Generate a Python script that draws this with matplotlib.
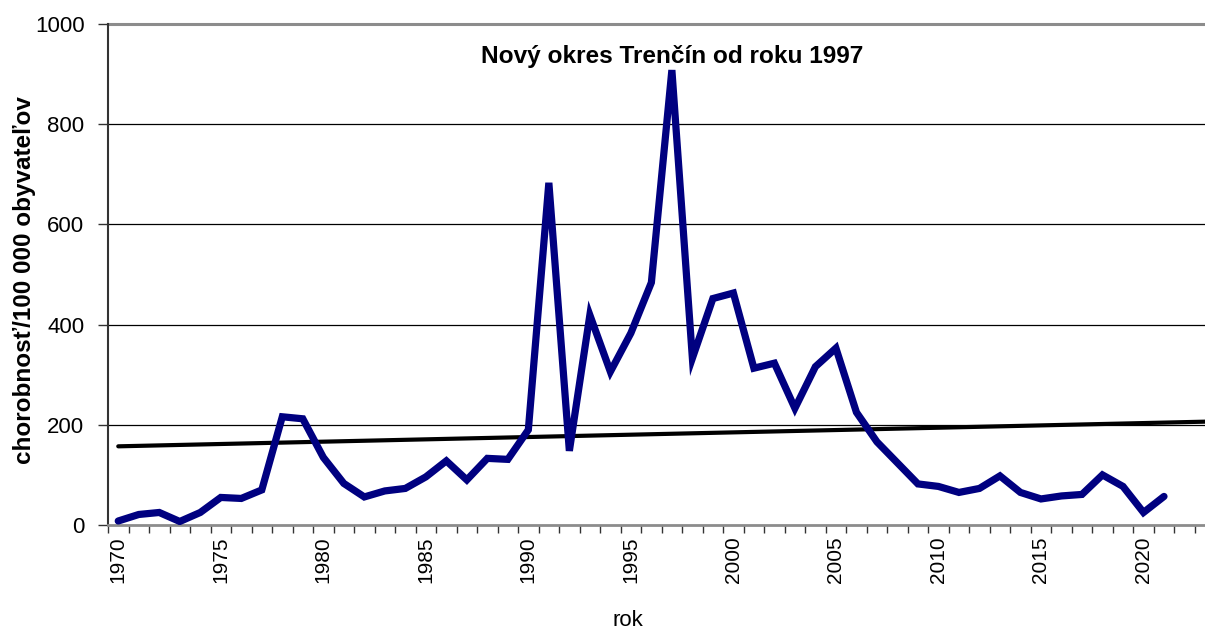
import numpy as np
import matplotlib
matplotlib.use("Agg")
import matplotlib.pyplot as plt
from matplotlib.ticker import FixedLocator, NullFormatter

plt.rcParams['font.family'] = ['Liberation Sans', 'DejaVu Sans']

years = list(range(1970, 2022))
values = [8, 21, 25, 7, 25, 55, 53, 70, 216, 212,
          135, 83, 56, 68, 73, 96, 128, 90, 133, 131,
          190, 683, 148, 419, 306, 383, 484, 908, 333, 452,
          463, 313, 323, 233, 316, 353, 225, 166, 124, 82,
          77, 65, 73, 98, 65, 52, 58, 61, 100, 77, 25, 57]
label_years = [1970, 1975, 1980, 1985, 1990, 1995, 2000, 2005, 2010, 2015, 2020]
y_ticks = [0, 200, 400, 600, 800, 1000]
title = "Nový okres Trenčín od roku 1997"
ylabel = "chorobnosť/100 000 obyvateľov"
xlabel = "rok"

W, H = 1205, 630
fig = plt.figure(figsize=(W / 100, H / 100), dpi=100)
ax = fig.add_axes([108 / W, 105 / H, 1097 / W, 501 / H])

x = np.array(years, dtype=float)
y = np.array(values, dtype=float)

# linear trend (Excel-like trendline), extended to plot edge
coef = np.polyfit(x, y, 1)
tx = np.array([1970, 2024])
ax.plot(tx, np.polyval(coef, tx), color='black', lw=3.0, zorder=3, solid_capstyle='round')

ax.plot(x, y, color='#000080', lw=5.2, zorder=4, solid_joinstyle='miter',
        solid_capstyle='round')

ax.set_xlim(1969.5, 2023.0)
ax.set_ylim(0, 1000)

for v in y_ticks[1:-1]:
    ax.axhline(v, color='black', lw=0.9, zorder=1)
ax.axhline(1000, color='#8c8c8c', lw=2.2, zorder=1, clip_on=False)

for s in ['top', 'right']:
    ax.spines[s].set_visible(False)
ax.spines['left'].set_color('#333333')
ax.spines['left'].set_linewidth(1.5)
ax.spines['bottom'].set_color('#8c8c8c')
ax.spines['bottom'].set_linewidth(2.0)

ax.set_yticks(y_ticks)
ax.set_yticklabels([str(v) for v in y_ticks])
ax.tick_params(axis='y', direction='out', length=7, width=1, color='#333333',
               labelsize=16, pad=10)

ax.set_xticks(label_years)
ax.set_xticklabels([str(v) for v in label_years], rotation=90)
ax.xaxis.set_minor_locator(FixedLocator(np.arange(1969.5, 2024.0, 1.0)))
ax.xaxis.set_minor_formatter(NullFormatter())
ax.tick_params(axis='x', which='major', length=0, labelsize=15, pad=8)
ax.tick_params(axis='x', which='minor', direction='out', length=6, width=1, color='#333333')

fig.text(25 / W, 1 - 280 / H, ylabel, rotation=90, ha='center', va='center',
         fontsize=17.5, fontweight='bold')
fig.text(628 / W, 1 - 620 / H, xlabel, ha='center', va='center', fontsize=16)

ax.text(1997, 935, title, ha='center', va='center', fontsize=17.6, fontweight='bold', zorder=5)

fig.savefig('out.png', dpi=100)
